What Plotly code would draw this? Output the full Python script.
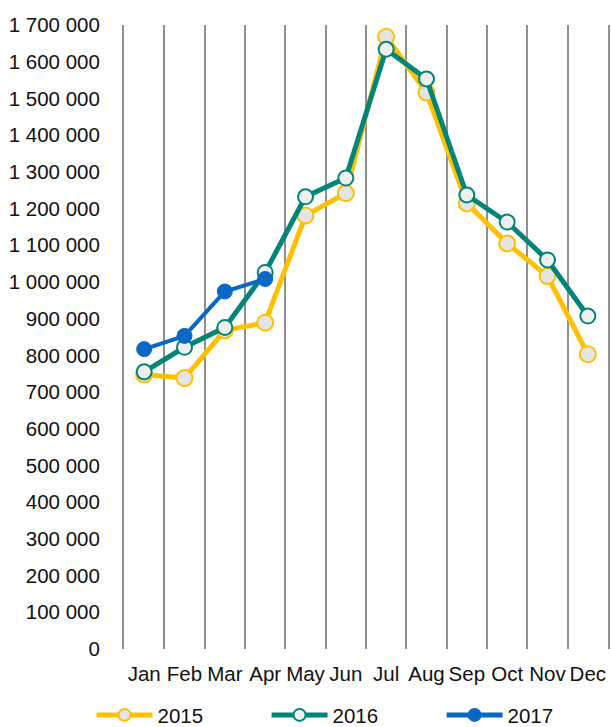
import plotly.graph_objects as go

months = ["Jan", "Feb", "Mar", "Apr", "May", "Jun", "Jul", "Aug", "Sep", "Oct", "Nov", "Dec"]
y2015 = [748000, 738000, 868000, 889000, 1181000, 1242000, 1668000, 1516000, 1214000, 1105000, 1016000, 803000]
y2016 = [755000, 822000, 876000, 1026000, 1232000, 1283000, 1634000, 1553000, 1237000, 1163000, 1060000, 907000]
y2017 = [817000, 853000, 974000, 1008000]
series_names = ["2015", "2016", "2017"]

fig = go.Figure()
fig.add_trace(go.Scatter(
    x=months, y=y2015, name=series_names[0], mode="lines+markers",
    line=dict(color="#FFC000", width=5),
    marker=dict(symbol="circle", size=16, color="#E4E4E4", line=dict(color="#FFC000", width=2)),
))
fig.add_trace(go.Scatter(
    x=months, y=y2016, name=series_names[1], mode="lines+markers",
    line=dict(color="#008577", width=5),
    marker=dict(symbol="circle", size=15, color="#F0F0F0", line=dict(color="#008577", width=2)),
))
fig.add_trace(go.Scatter(
    x=months[:len(y2017)], y=y2017, name=series_names[2], mode="lines+markers",
    line=dict(color="#0868C4", width=4),
    marker=dict(symbol="circle", size=15, color="#0868C4", line=dict(color="#0868C4", width=1)),
))

fig.update_layout(
    width=611, height=727,
    margin=dict(l=124, r=3, t=25, b=78, autoexpand=False),
    paper_bgcolor="white", plot_bgcolor="white",
    separators=". ",
    font=dict(family="Liberation Sans, Arial, sans-serif", size=20.5, color="#111111"),
    showlegend=True,
    legend=dict(
        orientation="h", x=-0.067, xanchor="left", y=-0.0738, yanchor="top",
        itemwidth=56, entrywidth=104, entrywidthmode="pixels", itemsizing="constant",
        font=dict(size=20.5), traceorder="normal", itemclick=False,
    ),
)
fig.update_xaxes(
    type="category", tickson="boundaries", showgrid=True, gridcolor="#8F8F8F", gridwidth=2,
    showline=False, zeroline=False, ticks="", ticklabelstandoff=10, tickangle=0,
    range=[-0.5, 11.5],
)
fig.update_yaxes(
    range=[0, 1700000], dtick=100000, tick0=0, tickformat=",d",
    showgrid=False, zeroline=False, ticks="", ticklabelstandoff=18,
    showline=True, mirror=True, linecolor="#8F8F8F", linewidth=2,
)

fig.write_html(
    "out.html",
    config={"displayModeBar": False},
    post_script="document.body.style.margin='0';document.documentElement.style.overflow='hidden';",
)
